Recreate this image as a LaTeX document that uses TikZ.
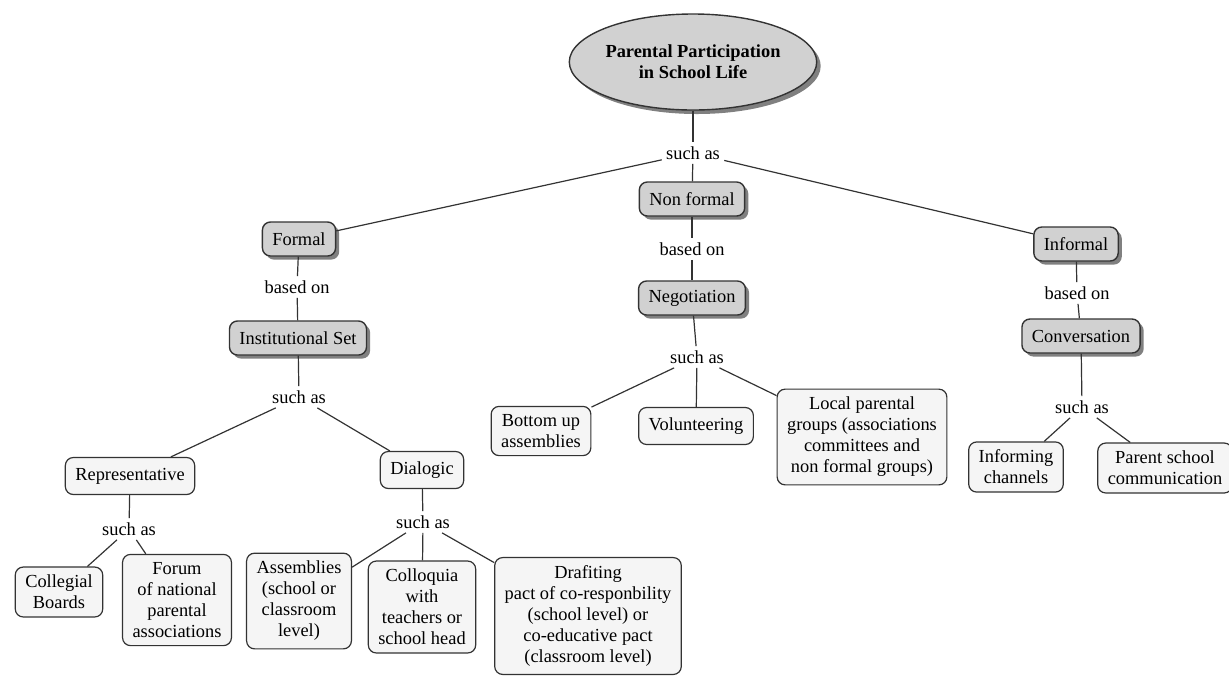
\documentclass[tikz,border=0pt]{standalone}
\usepackage{fontspec}
\setmainfont{Liberation Serif}
\usetikzlibrary{shapes.geometric,shadows}

\tikzset{
    concept/.style={draw=black!80, line width=0.7pt, fill=black!18, rounded corners=4pt,
        inner xsep=5pt, inner ysep=4pt, minimum height=17pt,
        drop shadow={shadow xshift=1.8pt, shadow yshift=-1.8pt, fill=black!50, opacity=1}},
    leaf/.style={draw=black!80, line width=0.6pt, fill=black!4, rounded corners=4pt,
        align=center, inner xsep=5pt, inner ysep=4pt, minimum height=18.5pt},
    link/.style={inner sep=2pt},
    wire/.style={draw=black!80, line width=0.6pt},
}

\begin{document}
\begin{tikzpicture}[x=0.5pt, y=-0.5pt, font=\fontsize{9.2}{10.5}\selectfont]
    \useasboundingbox (0,0) rectangle (1229,676);
    % top
    \node[ellipse, draw=black!80, line width=0.7pt, fill=black!18, inner sep=0pt,
        minimum width=104pt, minimum height=48pt, align=center, font=\fontsize{9.2}{10.5}\selectfont\bfseries,
        drop shadow={shadow xshift=2pt, shadow yshift=-2pt, fill=black!50, opacity=1}]
        (root) at (693,62) {Parental Participation\\in School Life};
    \node[link] (sa0) at (693,153) {such as};
    \node[concept] (formal) at (299,239) {Formal};
    \node[concept] (nonformal) at (692,199) {Non formal};
    \node[concept] (informal) at (1076,244) {Informal};
    \draw[wire] (root) -- (sa0);
    \draw[wire] (sa0) -- (formal);
    \draw[wire] (sa0) -- (nonformal);
    \draw[wire] (sa0) -- (informal);
    % formal branch
    \node[link] (bo1) at (297,287) {based on};
    \node[concept] (inst) at (298,338) {Institutional Set};
    \node[link] (sa1) at (299,397) {such as};
    \node[leaf] (repr) at (130,476) {Representative};
    \node[leaf] (dial) at (422,470) {Dialogic};
    \node[link] (sa2) at (129,529) {such as};
    \node[leaf] (colleg) at (59,592) {Collegial\\Boards};
    \node[leaf] (forum) at (177,600) {Forum\\of national\\parental\\associations};
    \node[link] (sa3) at (423,522) {such as};
    \node[leaf] (assem) at (299,601) {Assemblies\\(school or\\classroom\\level)};
    \node[leaf] (colloq) at (422,607) {Colloquia\\with\\teachers or\\school head};
    \node[leaf] (draft) at (588,616) {Drafiting\\pact of co-responbility\\(school level) or\\co-educative pact\\(classroom level)};
    \draw[wire] (formal) -- (bo1);
    \draw[wire] (bo1) -- (inst);
    \draw[wire] (inst) -- (sa1);
    \draw[wire] (sa1) -- (repr);
    \draw[wire] (sa1) -- (dial);
    \draw[wire] (repr) -- (sa2);
    \draw[wire] (sa2) -- (colleg);
    \draw[wire] (sa2) -- (forum);
    \draw[wire] (dial) -- (sa3);
    \draw[wire] (sa3) -- (assem);
    \draw[wire] (sa3) -- (colloq);
    \draw[wire] (sa3) -- (draft);
    % non formal branch
    \node[link] (bo2) at (692,249) {based on};
    \node[concept] (negot) at (692,298) {Negotiation};
    \node[link] (sa4) at (697,357) {such as};
    \node[leaf] (bottom) at (541,431) {Bottom up\\assemblies};
    \node[leaf] (vol) at (696,426) {Volunteering};
    \node[leaf] (local) at (862,437) {Local parental\\groups (associations\\committees and\\non formal groups)};
    \draw[wire] (nonformal) -- (bo2);
    \draw[wire] (bo2) -- (negot);
    \draw[wire] (negot) -- (sa4);
    \draw[wire] (sa4) -- (bottom);
    \draw[wire] (sa4) -- (vol);
    \draw[wire] (sa4) -- (local);
    % informal branch
    \node[link] (bo3) at (1077,293) {based on};
    \node[concept] (conv) at (1081,336) {Conversation};
    \node[link] (sa5) at (1082,407) {such as};
    \node[leaf] (inform) at (1016,467) {Informing\\channels};
    \node[leaf] (parent) at (1165,468) {Parent school\\communication};
    \draw[wire] (informal) -- (bo3);
    \draw[wire] (bo3) -- (conv);
    \draw[wire] (conv) -- (sa5);
    \draw[wire] (sa5) -- (inform);
    \draw[wire] (sa5) -- (parent);
\end{tikzpicture}
\end{document}
